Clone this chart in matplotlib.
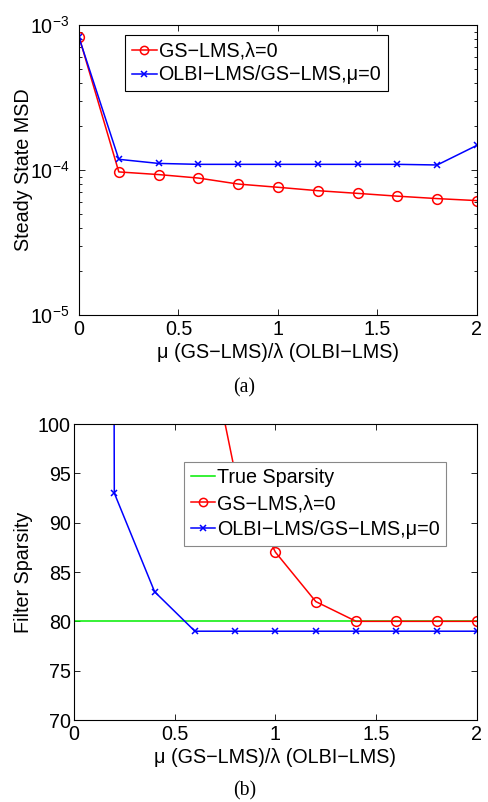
import numpy as np
import matplotlib
matplotlib.use("Agg")
import matplotlib.pyplot as plt
from matplotlib.ticker import LogLocator, FixedLocator, NullFormatter, FuncFormatter

plt.rcParams['font.family'] = ['Liberation Sans', 'DejaVu Sans']
plt.rcParams['mathtext.fontset'] = 'custom'
plt.rcParams['mathtext.rm'] = 'Liberation Sans'
plt.rcParams['mathtext.it'] = 'Liberation Sans'
plt.rcParams['axes.unicode_minus'] = True

# ---- data ----
x_vals = [0, 0.2, 0.4, 0.6, 0.8, 1.0, 1.2, 1.4, 1.6, 1.8, 2.0]

msd_gs = [8.3e-4, 9.7e-5, 9.3e-5, 8.8e-5, 8.0e-5, 7.6e-5, 7.2e-5, 6.9e-5, 6.6e-5, 6.35e-5, 6.15e-5]
msd_olbi = [8.2e-4, 1.185e-4, 1.11e-4, 1.094e-4, 1.094e-4, 1.094e-4, 1.094e-4, 1.094e-4, 1.094e-4, 1.083e-4, 1.48e-4]

sp_gs = [512, 300, 180, 115, 95, 87, 82, 80, 80, 80, 80]
sp_olbi = [2000, 93, 83, 79, 79, 79, 79, 79, 79, 79, 79]
true_sparsity = 80

x_ticks = [0, 0.5, 1, 1.5, 2]
x_ticklabels = ['0', '0.5', '1', '1.5', '2']
msd_ticks = [1e-5, 1e-4, 1e-3]
sp_ticks = [70, 75, 80, 85, 90, 95, 100]

label_gs = "GS\u2212LMS,\u03bb=0"
label_olbi = "OLBI\u2212LMS/GS\u2212LMS,\u03bc=0"
label_true = "True Sparsity"
xlabel = "\u03bc (GS\u2212LMS)/\u03bb (OLBI\u2212LMS)"

fig = plt.figure(figsize=(4.89, 8.02), dpi=100)

FS = 14.2

def style(ax, xpad, ypad):
    ax.tick_params(direction='in', which='both', top=True, right=True, labelsize=FS)
    ax.tick_params(axis='x', pad=xpad)
    ax.tick_params(axis='y', pad=ypad)
    ax.tick_params(which='major', length=4, width=0.6)
    ax.tick_params(which='minor', length=2.5, width=0.6)
    for s in ax.spines.values():
        s.set_linewidth(0.8)

# ---- top ----
ax1 = fig.add_axes([79/489, 1-315/802, 398/489, 290/802])
ax1.semilogy(x_vals, msd_gs, '-o', color='red', lw=1.1, ms=7, mfc='none', mew=1.1, label=label_gs)
ax1.semilogy(x_vals, msd_olbi, '-x', color='blue', lw=1.1, ms=4.5, mew=1.1, label=label_olbi)
ax1.set_xlim(0, 2)
ax1.set_ylim(1e-5, 1e-3)
ax1.set_xticks(x_ticks)
ax1.set_xticklabels(x_ticklabels)
ax1.yaxis.set_major_locator(FixedLocator(msd_ticks))
ax1.yaxis.set_major_formatter(FuncFormatter(lambda v, p: r'$10^{%d}$' % int(round(np.log10(v)))))
ax1.yaxis.set_minor_locator(LogLocator(base=10, subs=np.arange(2, 10)))
ax1.yaxis.set_minor_formatter(NullFormatter())
style(ax1, 3.8, 7)
ax1.set_xlabel(xlabel, fontsize=FS)
ax1.xaxis.set_label_coords(0.5, -0.097)
ax1.set_ylabel("Steady State MSD", fontsize=FS)
ax1.yaxis.set_label_coords(-0.1156, 0.5)
leg1 = ax1.legend(loc='upper left', bbox_to_anchor=(0.1156, 0.9655), fontsize=FS, frameon=True,
                  fancybox=False, edgecolor='black', framealpha=1, handlelength=1.25, handletextpad=0.1,
                  borderpad=0.35, labelspacing=0.23, borderaxespad=0, markerscale=0.85)
leg1.get_frame().set_linewidth(0.8)
fig.text(0.5, 1-388/802, "(a)", ha='center', va='center', fontsize=FS, family='Liberation Serif')

# ---- bottom ----
ax2 = fig.add_axes([74/489, 1-720/802, 403/489, 296/802])
ax2.plot([0, 2], [true_sparsity, true_sparsity], '-', color='#00ee00', lw=1.1, label=label_true)
ax2.plot(x_vals, sp_gs, '-o', color='red', lw=1.1, ms=7, mfc='none', mew=1.1, label=label_gs)
ax2.plot(x_vals, sp_olbi, '-x', color='blue', lw=1.1, ms=4.5, mew=1.1, label=label_olbi)
ax2.set_xlim(0, 2)
ax2.set_ylim(70, 100)
ax2.set_xticks(x_ticks)
ax2.set_xticklabels(x_ticklabels)
ax2.set_yticks(sp_ticks)
style(ax2, 3.3, 2.2)
ax2.set_xlabel(xlabel, fontsize=FS)
ax2.xaxis.set_label_coords(0.5, -0.095)
ax2.set_ylabel("Filter Sparsity", fontsize=FS)
ax2.yaxis.set_label_coords(-0.102, 0.5)
leg2 = ax2.legend(loc='upper left', bbox_to_anchor=(0.273, 0.872), fontsize=FS, frameon=True,
                  fancybox=False, edgecolor='#888888', framealpha=1, handlelength=1.25, handletextpad=0.1,
                  borderpad=0.33, labelspacing=0.35, borderaxespad=0, markerscale=0.85)
leg2.get_frame().set_linewidth(0.8)
fig.text(0.5, 1-791/802, "(b)", ha='center', va='center', fontsize=FS, family='Liberation Serif')

fig.savefig("out.png", dpi=100)
